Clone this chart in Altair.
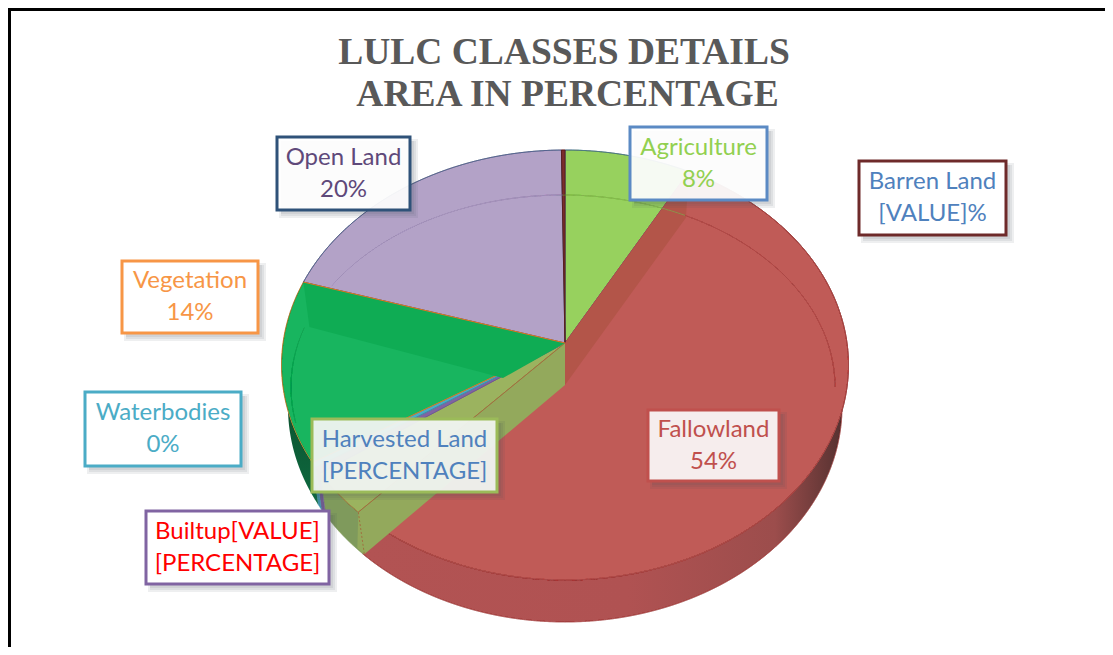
import math
import altair as alt

# ---- values ----
classes = ["Agriculture", "Fallowland", "Harvested Land", "Builtup", "Waterbodies", "Vegetation", "Open Land", "Barren Land"]
shares = [7.2, 55.8, 3.6, 0.5, 0.4, 13.8, 18.5, 0.2]
label_line1 = ["Agriculture", "Fallowland", "Harvested Land", "Builtup[VALUE]", "Waterbodies", "Vegetation", "Open Land", "Barren Land"]
label_line2 = ["8%", "54%", "[PERCENTAGE]", "[PERCENTAGE]", "0%", "14%", "20%", "[VALUE]%"]
title_lines = ["LULC CLASSES DETAILS", "AREA IN PERCENTAGE"]

# ---- styles and layout ----
top_fill = ["#97d15e", "#c05b57", "#9bb35f", "#8064a2", "#4bacc6", "#18b55f", "#b3a2c7", "#7b2c2c"]
edge = ["#2f5597", "#a84442", "#a0703f", "#6a5a9a", "#3b90a8", "#e8741e", "#2f4f7a", "#5a1f1f"]
wall_fill = ["#7fae4e", "#b25353", "#7f9a5c", "#6f5a8e", "#3f8fa5", "#0d5c35", "#8c7da3", "#5a1f1f"]
text_col = ["#92d050", "#c0504d", "#4f81bd", "#ff0000", "#4bacc6", "#f79646", "#5f497a", "#4f81bd"]
box_border = ["#5b8ac4", "#c0504d", "#9bbb59", "#8064a2", "#4bacc6", "#f79646", "#2f5279", "#6e2a2a"]
box_fill = ["#ffffff", "#f6eded", "#f1f5f1", "#ffffff", "#ffffff", "#ffffff", "#ffffff", "#ffffff"]
box_opacity = [0.93, 1, 0.95, 1, 1, 1, 0.93, 1]
boxes = [(630, 127, 767, 200), (648, 410, 779, 481), (312, 419, 497, 492), (146, 511, 329, 584),
         (85, 392, 241, 466), (122, 261, 258, 333), (277, 137, 410, 210), (859, 161, 1006, 235)]

CX, CY, A, B = 565, 365, 283.5, 215
AX, AY = 565, 343
DEPTH = 42
BOTTOM_A = 277
IA, ICX, ICY, IB = 272, 563, 387, 192

X = alt.X("x:Q", axis=None, scale=alt.Scale(domain=[8, 1105], range=[0, 1097], nice=False, zero=False))
Y = alt.Y("y:Q", axis=None, scale=alt.Scale(domain=[8, 647], range=[0, 639], nice=False, zero=False))


def rim(f0, f1, n=None, ell=(CX, CY, A, B)):
    cx, cy, a, b = ell
    n = n or max(3, int(abs(f1 - f0) * 300))
    pts = []
    for i in range(n + 1):
        t = 2 * math.pi * (f0 + (f1 - f0) * i / n) / 100
        pts.append((cx + a * math.sin(t), cy - b * math.cos(t)))
    return pts


def path(pts, close=True, **props):
    if close:
        pts = pts + [pts[0]]
    vals = [{"x": p[0], "y": p[1], "i": k} for k, p in enumerate(pts)]
    return alt.Chart(alt.Data(values=vals)).mark_line(interpolate="linear", **props).encode(
        x=X, y=Y, order=alt.Order("i:Q"))


cum = [0]
for s in shares:
    cum.append(cum[-1] + s)

layers = []

# frame
layers.append(path([(1105, 9.5), (9.5, 9.5), (9.5, 647)], close=False, stroke="#000000", strokeWidth=3))

# outer side wall
bottom = (CX, CY + DEPTH, BOTTOM_A, B)
for i in range(len(classes)):
    pts = rim(cum[i], cum[i + 1]) + rim(cum[i + 1], cum[i], ell=bottom)
    if classes[i] == "Fallowland":
        fill = alt.LinearGradient(gradient="linear", x1=0, x2=1, y1=0, y2=0, stops=[
            alt.GradientStop(color="#b25353", offset=0),
            alt.GradientStop(color="#b05252", offset=0.55),
            alt.GradientStop(color="#9c4d4c", offset=0.85),
            alt.GradientStop(color="#4f2f2e", offset=1)])
        layers.append(path(pts, fill=fill, stroke="#a84442", strokeWidth=1))
    elif classes[i] == "Vegetation":
        fill = alt.LinearGradient(gradient="linear", x1=0, x2=0, y1=0.45, y2=1, stops=[
            alt.GradientStop(color="#0b4d2c", offset=0),
            alt.GradientStop(color="#0e6a40", offset=1)])
        layers.append(path(pts, fill=fill, strokeWidth=0))
    else:
        layers.append(path(pts, fill=wall_fill[i], stroke=wall_fill[i], strokeWidth=0.5))

# top surface
for i in range(len(classes)):
    pts = [(AX, AY)] + rim(cum[i], cum[i + 1])
    layers.append(path(pts, fill=top_fill[i], stroke=edge[i], strokeWidth=1))

# inner walls seen on the top surface
fe = rim(cum[1], cum[1], n=1)[0]
he = rim(cum[2], cum[2], n=1)[0]
ve = rim(cum[6], cum[6], n=1)[0]
layers.append(path([(AX, AY), fe, (fe[0] - 3, fe[1] + 46), (AX, AY + 42)], fill="#b35549", strokeWidth=0))
layers.append(path([(AX, AY), (AX, AY + 42), (he[0] + 6, he[1] + 42), (he[0] - 1, he[1] + 36), he],
                   fill="#93a95c", strokeWidth=0))
layers.append(path([(AX, AY), he], close=False, stroke="#a0703f", strokeWidth=1))
layers.append(path([he, (he[0] + 6, he[1] + 42)], close=False, stroke="#a0703f", strokeWidth=1, strokeDash=[2, 2]))
layers.append(path([(AX, AY), ve, (ve[0] + 6, ve[1] + 45), (503, 378)], fill="#0fac54", strokeWidth=0))
layers.append(path([(AX, AY), ve], close=False, stroke="#e8741e", strokeWidth=1))

# faint inner rim
inner = (ICX, ICY, IA, IB)
layers.append(path(rim(7.4, 25, ell=inner), close=False, stroke="#a34644", strokeWidth=1, opacity=0.8))
layers.append(path(rim(0, 7.4, ell=inner), close=False, stroke="#7fb04c", strokeWidth=1, opacity=0.9))
layers.append(path(rim(83.8, 100, ell=inner), close=False, stroke="#9c8cb3", strokeWidth=1, opacity=0.9))
layers.append(path(rim(72, 80, ell=inner), close=False, stroke="#14a052", strokeWidth=1, opacity=0.9))

# label boxes: shadow, box, text
shadow_rows = []
for b in boxes:
    for off, grow in ((5, 3), (5, 1), (4, 0)):
        shadow_rows.append({"x": b[0] + off - grow, "x2": b[2] + off + grow,
                            "y": b[1] + off - grow, "y2": b[3] + off + grow})
layers.append(alt.Chart(alt.Data(values=shadow_rows)).mark_rect(fill="#3d4a5c", opacity=0.09).encode(
    x=X, x2="x2:Q", y=Y, y2="y2:Q"))

box_rows = [{"x": b[0], "x2": b[2], "y": b[1], "y2": b[3], "f": box_fill[i], "s": box_border[i], "o": box_opacity[i]}
            for i, b in enumerate(boxes)]
layers.append(alt.Chart(alt.Data(values=box_rows)).mark_rect(strokeWidth=3).encode(
    x=X, x2="x2:Q", y=Y, y2="y2:Q",
    fill=alt.Fill("f:N", scale=None), stroke=alt.Stroke("s:N", scale=None), fillOpacity=alt.FillOpacity("o:Q", scale=None)))

text_rows = []
for i, b in enumerate(boxes):
    mx = (b[0] + b[2]) / 2
    my = (b[1] + b[3]) / 2
    text_rows.append({"x": mx, "y": my - 16, "t": label_line1[i], "c": text_col[i]})
    text_rows.append({"x": mx, "y": my + 16, "t": label_line2[i], "c": text_col[i]})
layers.append(alt.Chart(alt.Data(values=text_rows)).mark_text(font="Lato", fontSize=24, align="center", baseline="middle").encode(
    x=X, y=Y, text="t:N", color=alt.Color("c:N", scale=None)))

# title
title_rows = [{"x": 564, "y": 53, "t": title_lines[0]}, {"x": 567.5, "y": 95, "t": title_lines[1]}]
layers.append(alt.Chart(alt.Data(values=title_rows)).mark_text(
    font="Liberation Serif", fontSize=37.5, fontWeight="bold", color="#595959", align="center", baseline="middle").encode(
    x=X, y=Y, text="t:N"))

chart = alt.layer(*layers).properties(width=1097, height=639, padding=0,
                                       autosize=alt.AutoSizeParams(type="none"),
                                       background="#ffffff").configure_view(stroke=None)
chart.save("out.html", embed_options={"renderer": "svg", "actions": False})
